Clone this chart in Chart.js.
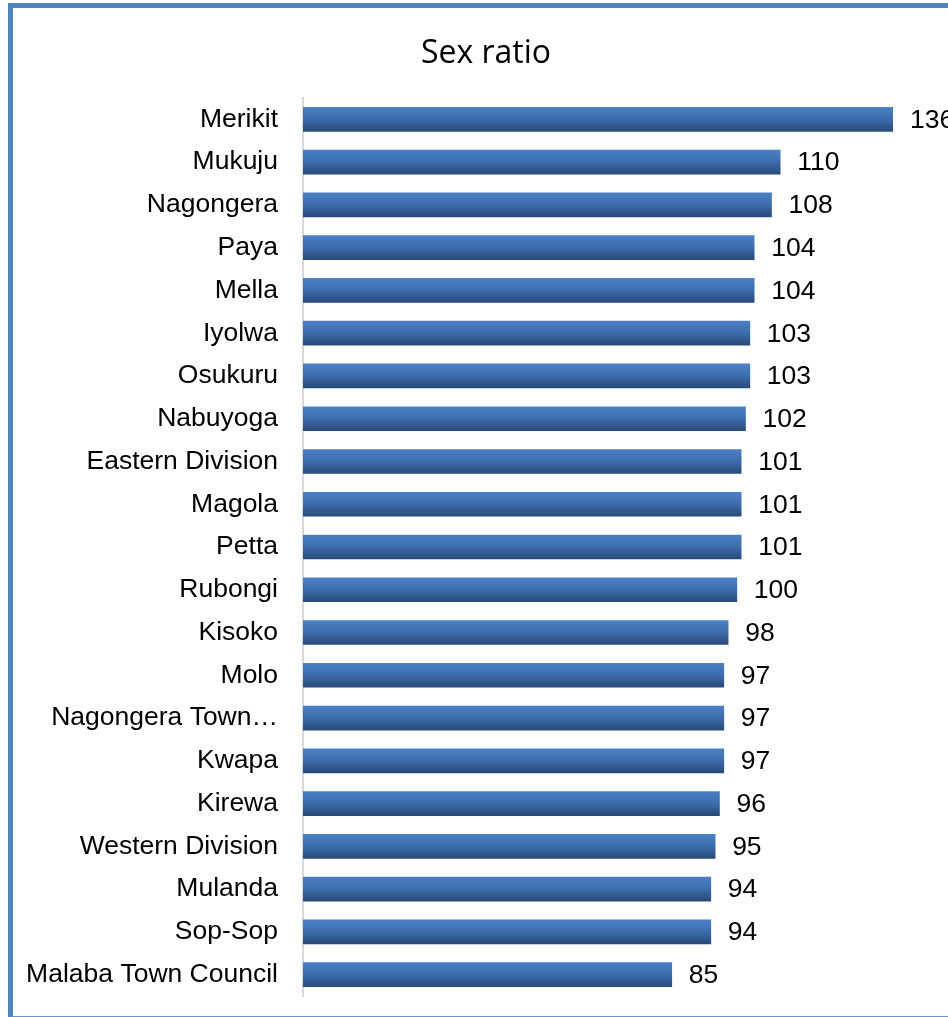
<!DOCTYPE html>
<html>
<head>
<meta charset="utf-8">
<script src="https://cdn.jsdelivr.net/npm/chart.js@4.4.1/dist/chart.umd.min.js"></script>
<style>
    body { margin: 0; background: #ffffff; overflow: hidden; }
    #marco {
        position: absolute;
        left: 8px;
        top: 3px;
        width: 980px;
        height: 1008px;
        border-left: 5px solid #4F81BD;
        border-top: 5px solid #4F81BD;
        border-bottom: 2px solid #6A93C8;
        background: #ffffff;
    }
    #grafico {
        position: absolute;
        left: 13px;
        top: 8px;
        width: 935px;
        height: 1008px;
    }
</style>
</head>
<body>
<div id="marco"></div>
<canvas id="grafico" width="935" height="1008"></canvas>
<script>
const TITULO = "Sex ratio";

const subcondados = [
    "Merikit", "Mukuju", "Nagongera", "Paya", "Mella", "Iyolwa", "Osukuru",
    "Nabuyoga", "Eastern Division", "Magola", "Petta", "Rubongi", "Kisoko",
    "Molo", "Nagongera Town…", "Kwapa", "Kirewa", "Western Division",
    "Mulanda", "Sop-Sop", "Malaba Town Council"
];

const razonSexo = [
    136, 110, 108, 104, 104, 103, 103, 102, 101, 101, 101, 100, 98,
    97, 97, 97, 96, 95, 94, 94, 85
];

const GROSOR_BARRA = 24;
const FUENTE = "'Liberation Sans', Arial, sans-serif";

function degradadoBarra(contexto) {
    const chart = contexto.chart;
    const escalaY = chart.scales.y;
    const centro = escalaY ? escalaY.getPixelForValue(contexto.dataIndex) : NaN;
    if (!isFinite(centro)) {
        return "#3F6EAD";
    }
    const g = chart.ctx.createLinearGradient(0, centro - GROSOR_BARRA / 2, 0, centro + GROSOR_BARRA / 2);
    g.addColorStop(0, "#4B80C7");
    g.addColorStop(0.5, "#3D6CAB");
    g.addColorStop(1, "#284A79");
    return g;
}

// titulo centrado sobre el marco, no sobre el area del grafico
const tituloCentrado = {
    id: "tituloCentrado",
    afterDraw(chart) {
        const ctx = chart.ctx;
        ctx.save();
        ctx.font = "32px 'Open Sans', sans-serif";
        ctx.fillStyle = "#000000";
        ctx.textAlign = "center";
        ctx.textBaseline = "alphabetic";
        ctx.fillText(TITULO, 473, 55);
        ctx.restore();
    }
};

const etiquetasValores = {
    id: "etiquetasValores",
    afterDatasetsDraw(chart) {
        const ctx = chart.ctx;
        const meta = chart.getDatasetMeta(0);
        ctx.save();
        ctx.font = "26.5px " + FUENTE;
        ctx.fillStyle = "#000000";
        ctx.textBaseline = "middle";
        ctx.textAlign = "left";
        meta.data.forEach((barra, i) => {
            ctx.fillText(String(razonSexo[i]), barra.x + 17, barra.y + 1);
        });
        ctx.restore();
    }
};

new Chart(document.getElementById("grafico"), {
    type: "bar",
    data: {
        labels: subcondados,
        datasets: [
            {
                label: TITULO,
                data: razonSexo,
                backgroundColor: degradadoBarra,
                borderWidth: 0,
                barThickness: GROSOR_BARRA
            }
        ]
    },
    options: {
        indexAxis: "y",
        responsive: false,
        animation: false,
        layout: {
            padding: { top: 90, right: 55, bottom: 20, left: 0 }
        },
        plugins: {
            legend: { display: false },
            tooltip: { enabled: false },
            title: { display: false }
        },
        scales: {
            x: {
                display: false,
                min: 0,
                max: 136
            },
            y: {
                grid: { display: false, drawTicks: false },
                border: { display: true, color: "#D9D9D9", width: 2 },
                ticks: {
                    color: "#000000",
                    padding: 25,
                    font: { family: FUENTE, size: 26.5 }
                },
                afterFit(escala) {
                    escala.width = 290;
                    escala.paddingTop = 0;
                    escala.paddingBottom = 0;
                }
            }
        }
    },
    plugins: [etiquetasValores, tituloCentrado]
});
</script>
</body>
</html>
